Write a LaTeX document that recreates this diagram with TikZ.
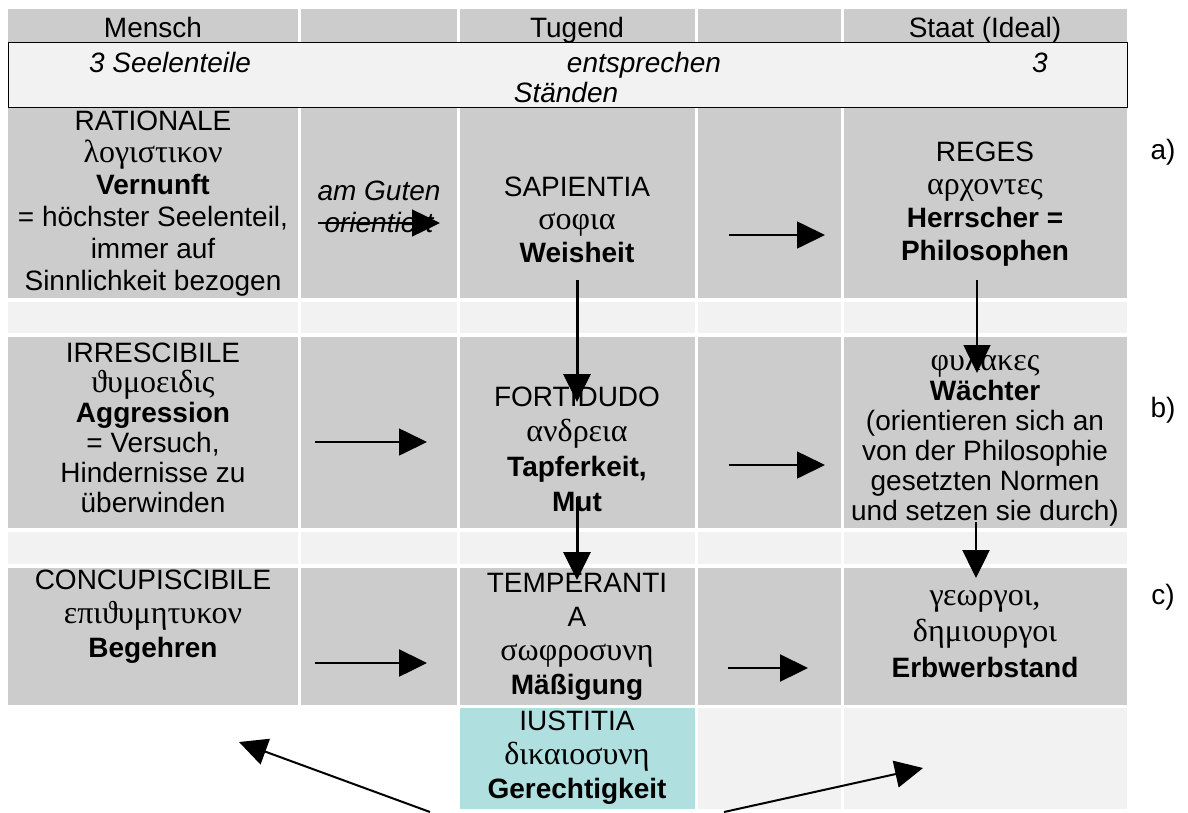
\documentclass[tikz,border=0pt]{standalone}
\usepackage{fontspec}
\setmainfont{Liberation Sans}
\newfontfamily\greekfont{Liberation Serif}
\usetikzlibrary{arrows.meta}
\definecolor{cellgrey}{HTML}{CCCCCC}
\definecolor{rowlight}{HTML}{F2F2F2}
\definecolor{iustcyan}{HTML}{B0DFDF}
\newcommand{\gr}[1]{{\greekfont\fontsize{32}{33}\selectfont #1}}

\begin{document}
\begin{tikzpicture}[x=1pt, y=-1pt,
    txt/.style={align=center, inner sep=0pt, font=\fontsize{28}{33}\selectfont},
    arr/.style={-{Triangle[length=28pt,width=27pt]}, line width=1.6pt}]
    \useasboundingbox (0,0) rectangle (1188,812);
    % Draw cells
    \foreach \xa/\xb in {8/298, 301/457, 460/695, 698/841, 844/1127} {
        \fill [cellgrey] (\xa,9) rectangle (\xb,42);
        \fill [cellgrey] (\xa,108) rectangle (\xb,298);
        \fill [rowlight] (\xa,302) rectangle (\xb,333);
        \fill [cellgrey] (\xa,337) rectangle (\xb,528);
        \fill [rowlight] (\xa,532) rectangle (\xb,564);
        \fill [cellgrey] (\xa,568) rectangle (\xb,705);
    }
    \fill [iustcyan] (460,708) rectangle (695,809);
    \fill [rowlight] (698,708) rectangle (841,809);
    \fill [rowlight] (844,708) rectangle (1127,809);
    \draw [fill=rowlight, line width=1pt] (8,42) rectangle (1127,107);
    % Header and note
    \node [txt, anchor=base] (mensch) at (153,37) {Mensch};
    \node [txt, anchor=base] (tugend) at (577,37) {Tugend};
    \node [txt, anchor=base] (staat) at (985,37) {Staat (Ideal)};
    \node [txt, anchor=base, font=\fontsize{28}{33}\itshape] (seelen) at (170,72) {3 Seelenteile};
    \node [txt, anchor=base, font=\fontsize{28}{33}\itshape] (entspr) at (644,72) {entsprechen};
    \node [txt, anchor=base, font=\fontsize{28}{33}\itshape] (drei) at (1040,72) {3};
    \node [txt, anchor=base, font=\fontsize{28}{33}\itshape] (staenden) at (566,102) {Ständen};
    % Row a
    \node [txt, font=\fontsize{28}{32}\selectfont] (rational) at (153,204)
        {RATIONALE\\ \gr{λογιστικον}\\ \textbf{Vernunft}\\ = höchster Seelenteil,\\ immer auf\\ Sinnlichkeit bezogen};
    \node [txt, font=\fontsize{28}{32}\itshape] (amguten) at (379,207) {am Guten\\ orientiert};
    \node [txt] (sapientia) at (577,220) {SAPIENTIA\\ \gr{σοφια}\\ \textbf{Weisheit}};
    \node [txt] (reges) at (985,204) {REGES\\ \gr{αρχοντες}\\ \textbf{Herrscher =}\\ \textbf{Philosophen}};
    % Row b
    \node [txt, font=\fontsize{28}{30}\selectfont] (irresc) at (153,428)
        {IRRESCIBILE\\ \gr{ϑυμοειδις}\\ \textbf{Aggression}\\ = Versuch,\\ Hindernisse zu\\ überwinden};
    \node [txt, font=\fontsize{28}{35}\selectfont] (fortid) at (577,449) {FORTIDUDO\\ \gr{ανδρεια}\\ \textbf{Tapferkeit,}\\ \textbf{Mut}};
    \node [txt, font=\fontsize{28}{30}\selectfont] (phylakes) at (985,437)
        {\gr{φυλακες}\\ \textbf{Wächter}\\ (orientieren sich an\\ von der Philosophie\\ gesetzten Normen\\ und setzen sie durch)};
    % Row c
    \node [txt, font=\fontsize{28}{34}\selectfont] (concup) at (153,617) {CONCUPISCIBILE\\ \gr{επιϑυμητυκον}\\ \textbf{Begehren}};
    \node [txt, font=\fontsize{28}{34}\selectfont] (temper) at (577,637) {TEMPERANTI\\ A\\ \gr{σωφροσυνη}\\ \textbf{Mäßigung}};
    \node [txt, font=\fontsize{28}{36}\selectfont] (georgoi) at (985,634) {\gr{γεωργοι,}\\ \gr{δημιουργοι}\\ \textbf{Erbwerbstand}};
    % Row d
    \node [txt, font=\fontsize{28}{34}\selectfont] (iustitia) at (577,758) {IUSTITIA\\ \gr{δικαιοσυνη}\\ \textbf{Gerechtigkeit}};
    % Side labels
    \node [txt] (la) at (1163,152) {a)};
    \node [txt] (lb) at (1163,410) {b)};
    \node [txt] (lc) at (1163,597) {c)};
    % Arrow ends
    \coordinate (ga) at (318,223);
    \coordinate (gb) at (440,223);
    \coordinate (ha) at (729,235);
    \coordinate (hb) at (825,235);
    \coordinate (ia) at (315,442);
    \coordinate (ib) at (427,442);
    \coordinate (ja) at (729,465);
    \coordinate (jb) at (825,465);
    \coordinate (ka) at (315,663);
    \coordinate (kb) at (427,663);
    \coordinate (ma) at (728,668);
    \coordinate (mb) at (808,668);
    \coordinate (va) at (577,280);
    \coordinate (vb) at (577,402);
    \coordinate (vc) at (577,497);
    \coordinate (vd) at (577,580);
    \coordinate (wa) at (977,280);
    \coordinate (wb) at (977,373);
    \coordinate (wc) at (976,522);
    \coordinate (wd) at (976,578);
    \coordinate (da) at (430,812);
    \coordinate (db) at (239,742);
    \coordinate (dc) at (724,812);
    \coordinate (dd) at (923,768);
    % Draw arrows
    \draw [arr, line width=1.4pt] (ga) -- (gb);
    \draw [arr] (ha) -- (hb);
    \draw [arr] (ia) -- (ib);
    \draw [arr] (ja) -- (jb);
    \draw [arr, line width=2.5pt] (ka) -- (kb);
    \draw [arr, line width=2.2pt] (ma) -- (mb);
    \draw [arr, line width=3pt] (va) -- (vb);
    \draw [arr, line width=3pt] (vc) -- (vd);
    \draw [arr] (wa) -- (wb);
    \draw [arr, line width=2.5pt] (wc) -- (wd);
    \draw [arr, line width=2pt] (da) -- (db);
    \draw [arr, line width=2pt] (dc) -- (dd);
\end{tikzpicture}
\end{document}
